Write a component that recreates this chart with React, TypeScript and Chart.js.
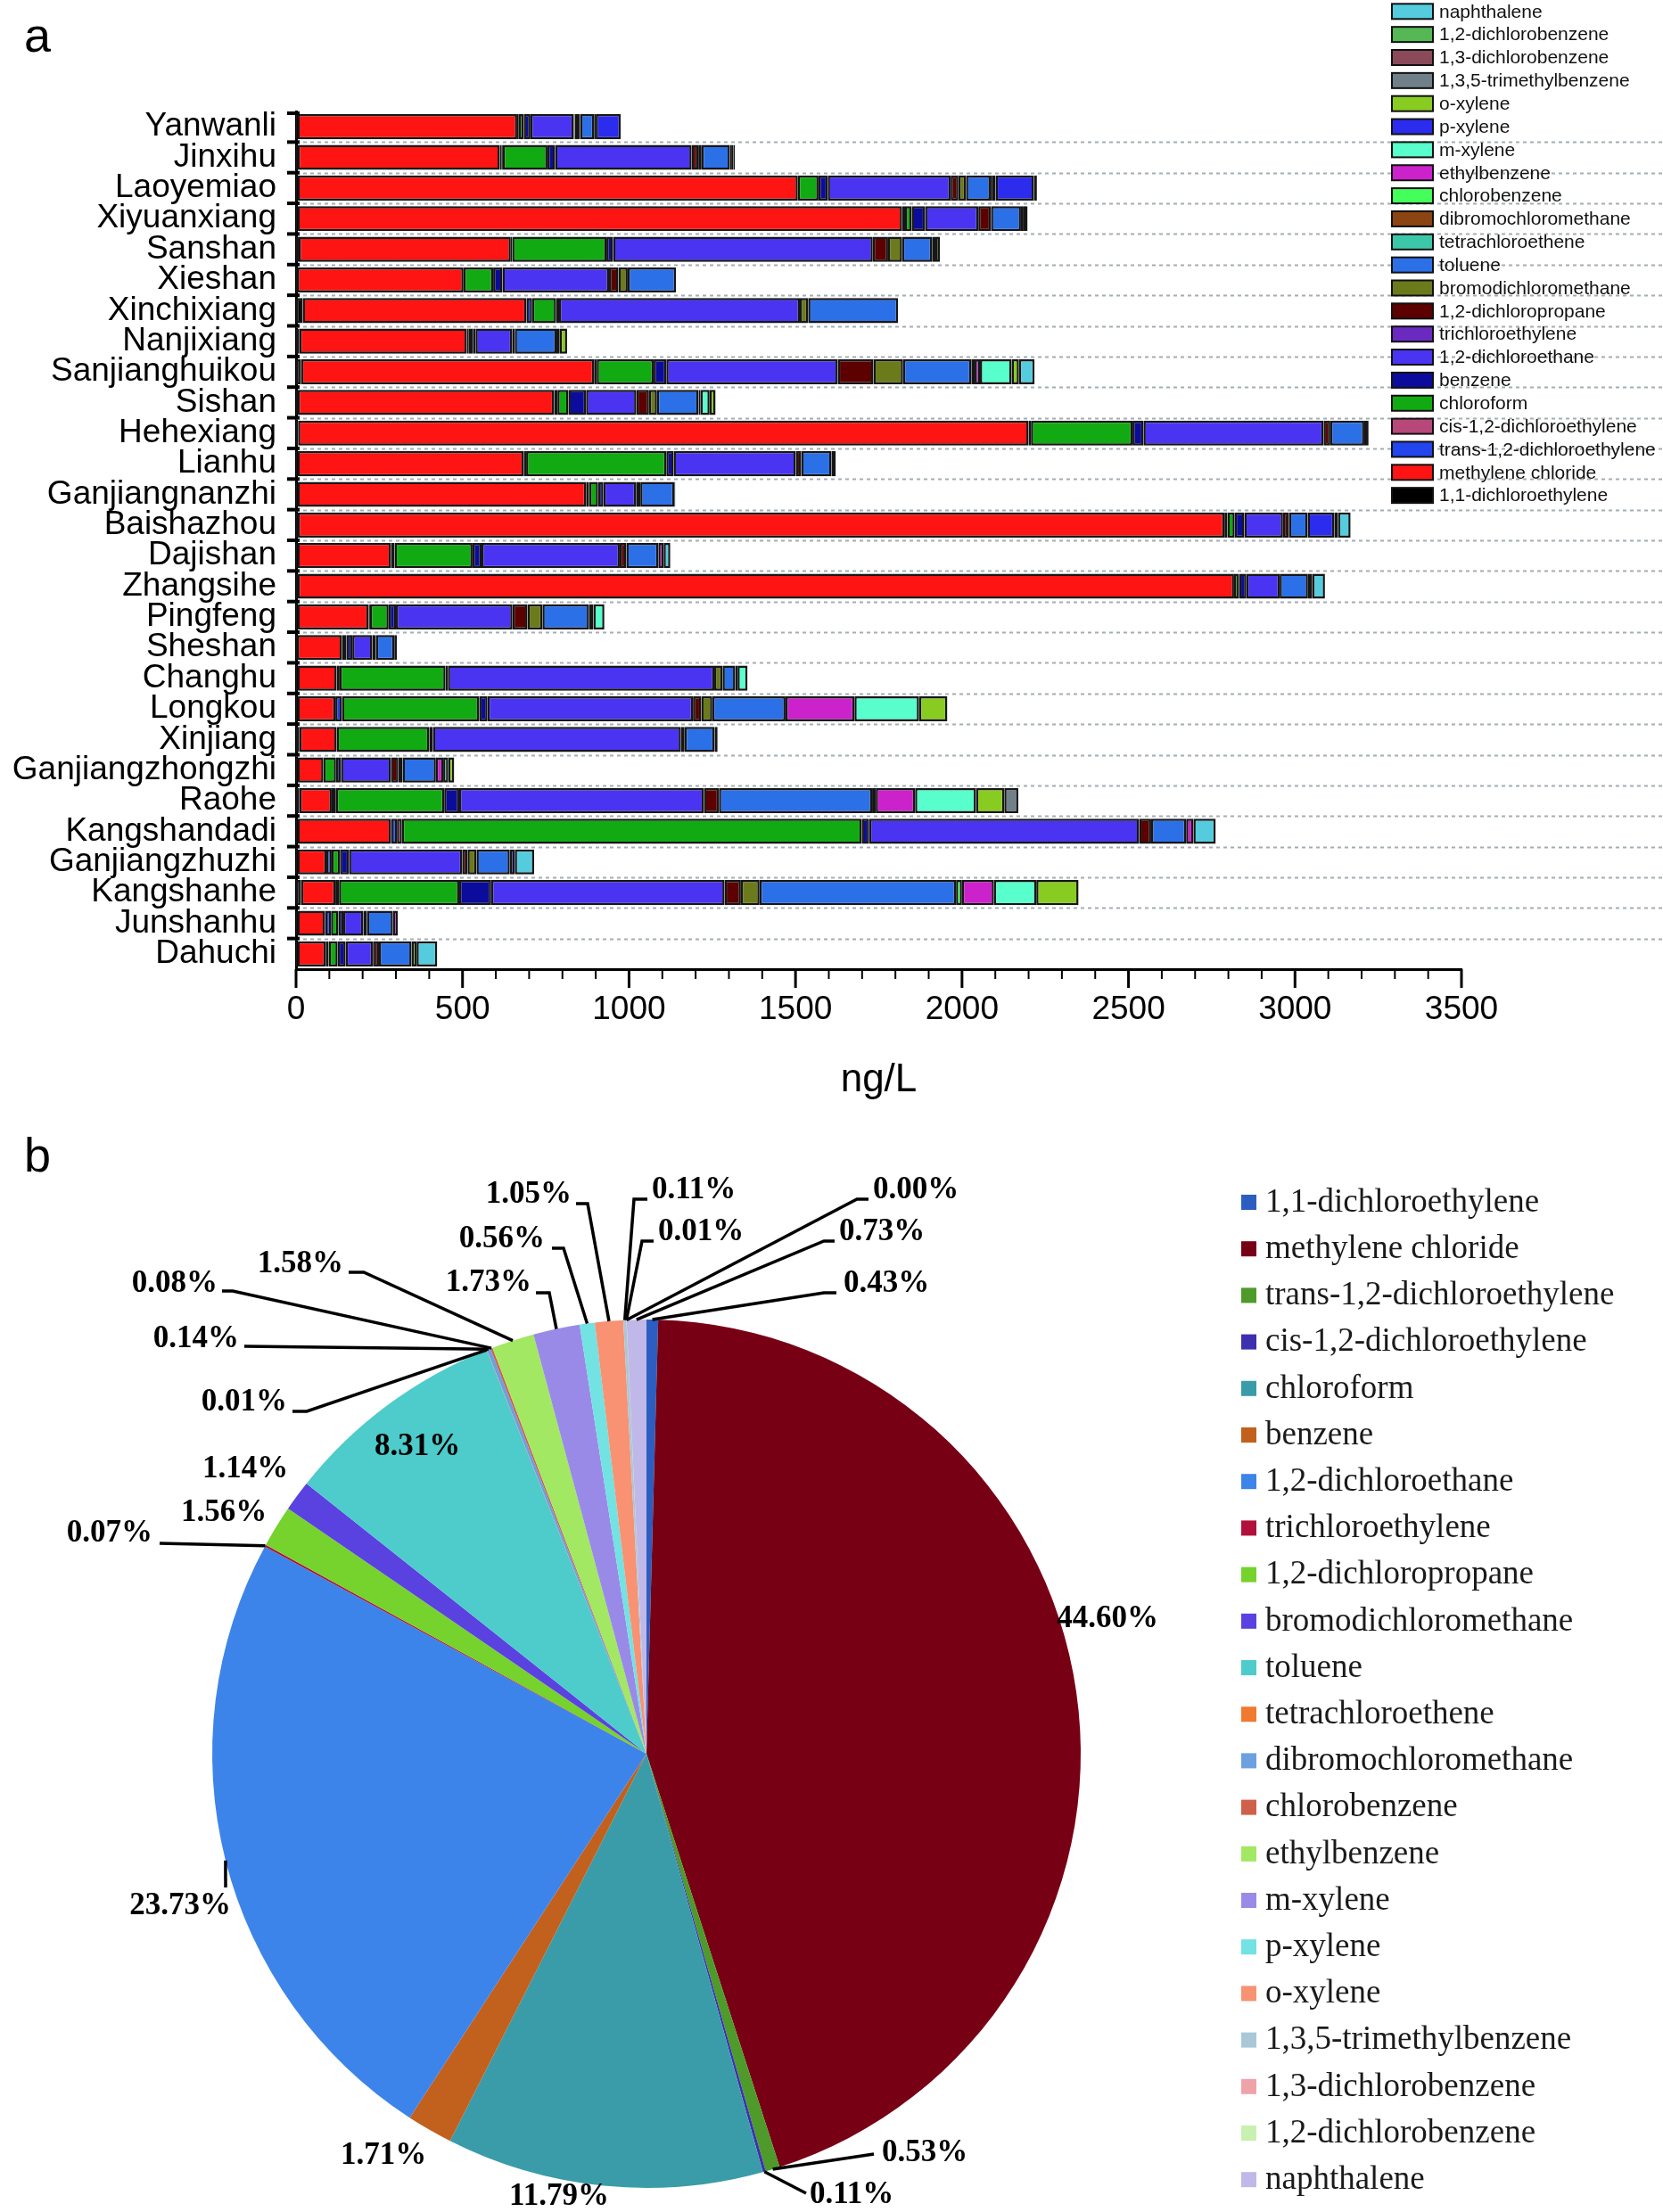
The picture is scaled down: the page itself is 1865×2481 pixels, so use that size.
import React, { useEffect, useRef } from 'react';
import { Chart, registerables } from 'chart.js';

Chart.register(...registerables);

const SANS = '"Liberation Sans", Arial, sans-serif';
const SERIF = '"Liberation Serif", "Times New Roman", serif';

// ---------- data: panel a ----------
const sites = ['Yanwanli', 'Jinxihu', 'Laoyemiao', 'Xiyuanxiang', 'Sanshan', 'Xieshan', 'Xinchixiang', 'Nanjixiang', 'Sanjianghuikou', 'Sishan', 'Hehexiang', 'Lianhu', 'Ganjiangnanzhi', 'Baishazhou', 'Dajishan', 'Zhangsihe', 'Pingfeng', 'Sheshan', 'Changhu', 'Longkou', 'Xinjiang', 'Ganjiangzhongzhi', 'Raohe', 'Kangshandadi', 'Ganjiangzhuzhi', 'Kangshanhe', 'Junshanhu', 'Dahuchi'];

const compounds = ['1,1-dichloroethylene', 'methylene chloride', 'trans-1,2-dichloroethylene', 'cis-1,2-dichloroethylene', 'chloroform', 'benzene', '1,2-dichloroethane', 'trichloroethylene', '1,2-dichloropropane', 'bromodichloromethane', 'toluene', 'tetrachloroethene', 'dibromochloromethane', 'chlorobenzene', 'ethylbenzene', 'm-xylene', 'p-xylene', 'o-xylene', '1,3,5-trimethylbenzene', '1,3-dichlorobenzene', '1,2-dichlorobenzene', 'naphthalene'];

const dce11 = [4, 5, 4, 4, 8, 3, 20, 10, 15, 5, 6, 4, 4, 5, 4, 5, 4, 3, 4, 4, 10, 4, 10, 4, 4, 15, 4, 4];
const methyleneChloride = [660, 607, 1503, 1816, 637, 500, 672, 503, 880, 770, 2194, 680, 867, 2783, 281, 2812, 214, 135, 118, 114, 112, 78, 97, 281, 87, 103, 83, 85];
const trans12 = [5, 6, 0, 9, 4, 0, 17, 6, 0, 10, 7, 7, 9, 9, 11, 0, 4, 0, 9, 20, 0, 0, 13, 18, 16, 11, 18, 9];
const cis12 = [0, 3, 0, 0, 0, 0, 0, 0, 8, 0, 0, 0, 0, 0, 0, 0, 0, 0, 0, 0, 0, 0, 0, 15, 0, 0, 0, 0];
const chloroform = [15, 134, 62, 20, 283, 89, 72, 12, 171, 33, 305, 421, 27, 22, 234, 15, 56, 13, 318, 412, 278, 38, 325, 1381, 25, 361, 22, 27];
const benzene = [20, 23, 28, 40, 20, 28, 9, 8, 38, 53, 33, 22, 16, 29, 27, 22, 22, 18, 7, 25, 11, 15, 45, 22, 27, 96, 15, 24];
const dca12 = [130, 410, 369, 160, 780, 320, 723, 110, 515, 151, 541, 367, 98, 116, 415, 100, 350, 60, 800, 617, 745, 150, 735, 811, 340, 701, 60, 82];
const tce = [3, 0, 0, 0, 0, 0, 0, 0, 0, 0, 0, 0, 0, 0, 0, 0, 0, 0, 0, 0, 0, 0, 0, 0, 0, 0, 0, 0];
const dcp12 = [12, 20, 23, 38, 46, 28, 0, 0, 107, 38, 20, 16, 13, 18, 20, 0, 45, 11, 0, 25, 11, 22, 45, 36, 16, 49, 0, 18];
const bdcm = [4, 10, 23, 0, 42, 28, 25, 8, 89, 24, 0, 0, 0, 0, 0, 0, 45, 0, 25, 33, 0, 13, 0, 0, 27, 56, 11, 0];
const toluene = [42, 85, 74, 90, 90, 145, 270, 125, 205, 125, 102, 91, 102, 56, 96, 85, 140, 55, 38, 220, 90, 100, 460, 105, 100, 590, 78, 98];
const pce = [0, 4, 0, 0, 0, 0, 0, 0, 0, 0, 0, 0, 0, 0, 0, 0, 0, 0, 0, 0, 0, 0, 0, 0, 0, 0, 0, 0];
const dbcm = [0, 0, 0, 0, 0, 0, 0, 0, 0, 0, 0, 0, 0, 0, 0, 0, 0, 0, 0, 0, 0, 0, 0, 0, 0, 0, 0, 0];
const chlorobenzene = [0, 0, 0, 0, 0, 0, 0, 0, 10, 0, 0, 0, 0, 0, 0, 0, 0, 0, 0, 0, 0, 0, 11, 0, 0, 18, 0, 0];
const ethylbenzene = [5, 0, 5, 8, 10, 0, 0, 10, 16, 6, 13, 13, 3, 0, 16, 13, 13, 8, 7, 207, 9, 22, 118, 22, 0, 96, 15, 0];
const mXylene = [0, 6, 10, 12, 0, 0, 0, 0, 95, 27, 0, 0, 0, 0, 0, 0, 33, 0, 30, 194, 0, 15, 183, 0, 0, 127, 0, 0];
const pXylene = [75, 0, 115, 0, 0, 0, 0, 0, 0, 0, 0, 0, 0, 80, 0, 0, 0, 0, 0, 0, 0, 0, 0, 0, 15, 0, 0, 0];
const oXylene = [0, 0, 9, 0, 14, 0, 0, 22, 22, 18, 0, 0, 0, 11, 0, 0, 0, 0, 0, 85, 0, 18, 85, 0, 0, 127, 0, 15];
const tmb135 = [0, 0, 0, 0, 0, 0, 0, 0, 0, 0, 0, 0, 0, 0, 0, 0, 0, 0, 0, 0, 0, 0, 42, 0, 0, 0, 0, 0];
const dcb13 = [0, 0, 0, 0, 0, 0, 0, 0, 0, 0, 0, 0, 0, 0, 0, 0, 0, 0, 0, 0, 0, 0, 0, 0, 0, 0, 0, 0];
const dcb12 = [0, 0, 0, 0, 0, 0, 0, 0, 0, 0, 0, 0, 0, 0, 0, 0, 0, 0, 0, 0, 0, 0, 0, 0, 0, 0, 0, 0];
const naphthalene = [0, 5, 0, 0, 0, 0, 0, 0, 47, 0, 0, 0, 0, 38, 20, 38, 0, 0, 0, 0, 0, 0, 0, 67, 58, 0, 0, 62];

const barSeries = [dce11, methyleneChloride, trans12, cis12, chloroform, benzene, dca12, tce, dcp12, bdcm, toluene, pce, dbcm, chlorobenzene, ethylbenzene, mXylene, pXylene, oXylene, tmb135, dcb13, dcb12, naphthalene];

const barColors = ['#000000', '#FF1414', '#2345EE', '#B8487A', '#12AA12', '#0C0C9C', '#4A34F2', '#6A2AC0', '#5C0000', '#6B7B1B', '#2C70E8', '#3CC8A8', '#8B4513', '#44FF5A', '#CC22CC', '#58FFCC', '#2C2CEE', '#88CC22', '#708088', '#8B4A5A', '#55B855', '#55CCDD'];

const xTickValues = [0, 500, 1000, 1500, 2000, 2500, 3000, 3500];
const xAxisTitle = 'ng/L';

// ---------- data: panel b ----------
const pieShares = [0.43, 44.60, 0.53, 0.11, 11.79, 1.71, 23.73, 0.07, 1.56, 1.14, 8.31, 0.01, 0.14, 0.08, 1.58, 1.73, 0.56, 1.05, 0.11, 0.01, 0.00, 0.73];
const pieColors = ['#2B5EC0', '#780014', '#4E9A2A', '#3C30B0', '#3A9CA8', '#C2601E', '#3D84EA', '#B0103A', '#76D22C', '#5A42E0', '#4ECBCB', '#F07A30', '#6CA0E0', '#D0604A', '#A2E862', '#9A8AE8', '#72E2E2', '#F89272', '#A8C8D8', '#F0A2AA', '#C8F0B0', '#C0B8E8'];

// label layout (offsets from the pie centre, px)
const pieLabelLayout: { t: number[]; a: CanvasTextAlign; p?: number[][] }[] = [
  { t: [221, -527], a: 'left', p: [[199, -517], [213, -517]] },
  { t: [517, -151], a: 'center' },
  { t: [264, 448], a: 'left', p: [[255, 449]] },
  { t: [183, 495], a: 'left', p: [[179, 493]] },
  { t: [-98, 497], a: 'center' },
  { t: [-295, 451], a: 'center' },
  { t: [-523, 171], a: 'center', p: [[-472, 150]] },
  { t: [-554, -247], a: 'right', p: [[-546, -236]] },
  { t: [-474, -270], a: 'center' },
  { t: [-450, -319], a: 'center' },
  { t: [-257, -344], a: 'center' },
  { t: [-403, -394], a: 'right', p: [[-381, -384], [-397, -384]] },
  { t: [-457, -465], a: 'right', p: [[-451, -457]] },
  { t: [-481, -527], a: 'right', p: [[-464, -519], [-476, -519]] },
  { t: [-340, -549], a: 'right', p: [[-317, -540], [-334, -540]] },
  { t: [-129, -528], a: 'right', p: [[-109, -517], [-124, -517]] },
  { t: [-114, -577], a: 'right', p: [[-93, -567], [-106, -567]] },
  { t: [-84, -627], a: 'right', p: [[-66, -617], [-79, -617]] },
  { t: [6, -632], a: 'left', p: [[-14, -622], [1, -622]] },
  { t: [13, -585], a: 'left', p: [[-5, -575], [8, -575]] },
  { t: [254, -632], a: 'left', p: [[236, -622], [249, -622]] },
  { t: [216, -585], a: 'left', p: [[199, -575], [211, -575]] },
];

// ---------- plugins ----------
const barDecor = {
  id: 'barDecor',
  beforeDatasetsDraw(chart: any) {
    const { ctx, chartArea, scales } = chart;
    const y = scales.y;
    ctx.save();
    ctx.strokeStyle = '#A3ADB4';
    ctx.lineWidth = 2;
    ctx.setLineDash([4, 4]);
    for (let i = 0; i < sites.length - 1; i++) {
      const yy = Math.round((y.getPixelForValue(i) + y.getPixelForValue(i + 1)) / 2) + 0.5;
      ctx.beginPath();
      ctx.moveTo(chartArea.left, yy);
      ctx.lineTo(chart.width, yy);
      ctx.stroke();
    }
    ctx.restore();
  },
  afterDraw(chart: any) {
    const { ctx, chartArea, scales } = chart;
    const x = scales.x;
    const y = scales.y;
    ctx.save();
    ctx.strokeStyle = '#000';
    for (let v = x.min; v <= x.max; v += 100) {
      const px = x.getPixelForValue(v);
      const major = v % 500 === 0;
      ctx.lineWidth = major ? 3 : 2;
      ctx.beginPath();
      ctx.moveTo(px, chartArea.bottom);
      ctx.lineTo(px, chartArea.bottom + (major ? 21 : 11));
      ctx.stroke();
    }
    ctx.lineWidth = 4;
    for (let i = 0; i < sites.length; i++) {
      const yy = i === 0 ? chartArea.top + 2 : (y.getPixelForValue(i - 1) + y.getPixelForValue(i)) / 2;
      ctx.beginPath();
      ctx.moveTo(chartArea.left - 10, yy);
      ctx.lineTo(chartArea.left + 4, yy);
      ctx.stroke();
    }
    // legend (reverse order, top = last series)
    ctx.font = '21px ' + SANS;
    ctx.textBaseline = 'middle';
    ctx.textAlign = 'left';
    const n = compounds.length;
    for (let k = 0; k < n; k++) {
      const i = n - 1 - k;
      const cy = 12.8 + k * 25.85;
      ctx.fillStyle = barColors[i];
      ctx.fillRect(1561, cy - 8.5, 46, 17);
      ctx.lineWidth = 2;
      ctx.strokeStyle = '#111';
      ctx.strokeRect(1561, cy - 8.5, 46, 17);
      ctx.fillStyle = '#111';
      ctx.fillText(compounds[i], 1614, cy + 1);
    }
    ctx.restore();
  },
};

const pieDecor = {
  id: 'pieDecor',
  afterDraw(chart: any) {
    const { ctx } = chart;
    const meta = chart.getDatasetMeta(0);
    ctx.save();
    ctx.strokeStyle = '#000';
    ctx.lineWidth = 3.5;
    ctx.fillStyle = '#000';
    ctx.font = 'bold 35px ' + SERIF;
    ctx.textBaseline = 'middle';
    meta.data.forEach((arc: any, i: number) => {
      const lay = pieLabelLayout[i];
      const cx = arc.x;
      const cy = arc.y;
      if (lay.p) {
        const mid = (arc.startAngle + arc.endAngle) / 2;
        const sx = cx + Math.cos(mid) * arc.outerRadius;
        const sy = cy + Math.sin(mid) * arc.outerRadius;
        ctx.beginPath();
        ctx.moveTo(sx, sy);
        lay.p.forEach((pt) => ctx.lineTo(cx + pt[0], cy + pt[1]));
        ctx.stroke();
      }
      ctx.textAlign = lay.a;
      ctx.fillText(pieShares[i].toFixed(2) + '%', cx + lay.t[0], cy + lay.t[1]);
    });
    // legend
    ctx.font = '37px ' + SERIF;
    ctx.textAlign = 'left';
    ctx.textBaseline = 'middle';
    compounds.forEach((name, i) => {
      const yy = 83 + i * 52.2;
      ctx.fillStyle = pieColors[i];
      ctx.fillRect(1392, yy - 8, 17, 17);
      ctx.fillStyle = '#1a1a1a';
      ctx.fillText(name, 1419, yy + 1);
    });
    ctx.restore();
  },
};

export default function App() {
  const barRef = useRef<HTMLCanvasElement>(null);
  const pieRef = useRef<HTMLCanvasElement>(null);

  useEffect(() => {
    const barChart = new Chart(barRef.current as HTMLCanvasElement, {
      type: 'bar',
      data: {
        labels: sites,
        datasets: barSeries.map((vals, i) => ({
          label: compounds[i],
          data: vals.map((v) => (v === 0 ? null : v)),
          backgroundColor: barColors[i],
          borderColor: '#161616',
          borderWidth: 2.5,
          borderSkipped: false,
          barPercentage: 0.82,
          categoryPercentage: 1.0,
        })),
      },
      options: {
        indexAxis: 'y',
        responsive: false,
        animation: false,
        devicePixelRatio: 1,
        layout: { padding: { top: 125, right: 226, left: 0, bottom: 0 } },
        plugins: { legend: { display: false }, tooltip: { enabled: false } },
        scales: {
          x: {
            type: 'linear',
            stacked: true,
            min: xTickValues[0],
            max: xTickValues[xTickValues.length - 1],
            afterBuildTicks: (s: any) => { s.ticks = xTickValues.map((v) => ({ value: v })); },
            afterFit: (s: any) => { s.height = 178; },
            ticks: {
              font: { size: 37, family: SANS },
              color: '#000',
              padding: 24,
              maxRotation: 0,
              callback: (v: any) => String(v),
            },
            grid: { display: false, drawTicks: false },
            border: { display: true, color: '#000', width: 3 },
            title: { display: true, text: xAxisTitle, color: '#000', font: { size: 44, family: SANS }, padding: { top: 0, bottom: 27 } },
          },
          y: {
            type: 'category',
            stacked: true,
            afterFit: (s: any) => { s.width = 332; },
            ticks: { font: { size: 37, family: SANS }, color: '#000', padding: 22, autoSkip: false },
            grid: { display: false, drawTicks: false },
            border: { display: true, color: '#000', width: 3 },
          },
        },
      } as any,
      plugins: [barDecor],
    });

    const pieChart = new Chart(pieRef.current as HTMLCanvasElement, {
      type: 'pie',
      data: {
        labels: compounds,
        datasets: [{ data: pieShares, backgroundColor: pieColors, borderWidth: 0 }],
      },
      options: {
        responsive: false,
        animation: false,
        devicePixelRatio: 1,
        layout: { padding: { left: 238, right: 653, top: 215, bottom: 27 } },
        plugins: { legend: { display: false }, tooltip: { enabled: false } },
      } as any,
      plugins: [pieDecor],
    });

    return () => {
      barChart.destroy();
      pieChart.destroy();
    };
  }, []);

  return (
    <div style={{ position: 'absolute', left: 0, top: 0, width: 1865, height: 2481, background: '#fff', overflow: 'hidden' }}>
      <canvas ref={barRef} width={1865} height={1265} style={{ position: 'absolute', left: 0, top: 0, width: 1865, height: 1265 }} />
      <canvas ref={pieRef} width={1865} height={1216} style={{ position: 'absolute', left: 0, top: 1265, width: 1865, height: 1216 }} />
      <div style={{ position: 'absolute', left: 27, top: 12, fontFamily: SANS, fontSize: 54, lineHeight: 1, color: '#000' }}>a</div>
      <div style={{ position: 'absolute', left: 27, top: 1268, fontFamily: SANS, fontSize: 54, lineHeight: 1, color: '#000' }}>b</div>
    </div>
  );
}
